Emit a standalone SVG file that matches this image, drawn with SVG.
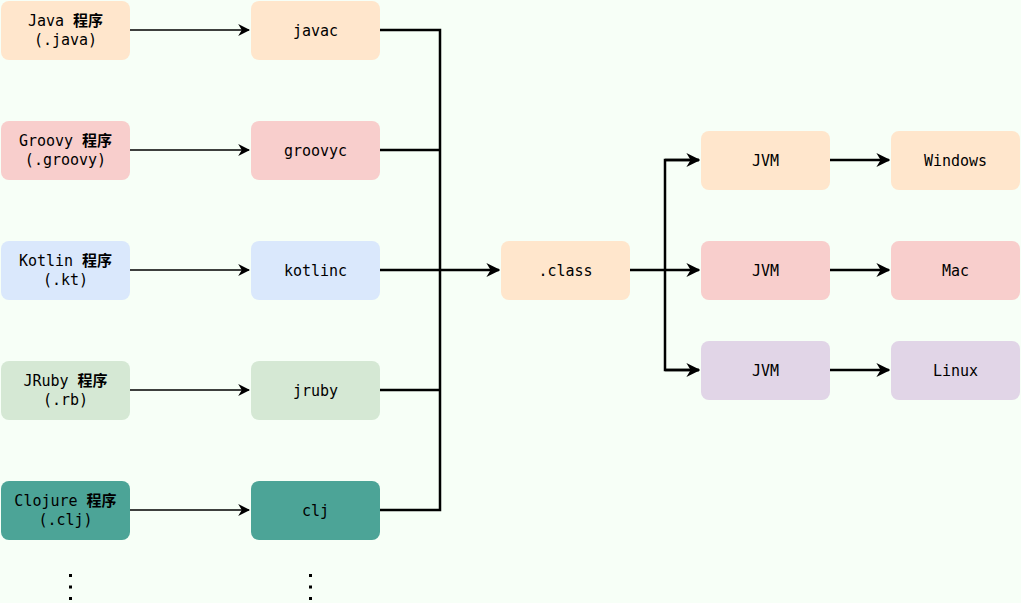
<svg xmlns="http://www.w3.org/2000/svg" width="1021" height="603" viewBox="0 0 1021 603">
<style>
.t{font-family:"DejaVu Sans Mono","Noto Sans CJK SC",monospace;font-size:15px;fill:#000;text-anchor:middle;dominant-baseline:central}
.c{font-weight:700}
.o{fill:#FFE6CC}.p{fill:#F8CECC}.b{fill:#DAE8FC}.g{fill:#D5E8D4}.k{fill:#4CA497}.v{fill:#E1D5E7}
.thin{stroke:#000;stroke-width:1.3;fill:none}
.thick{stroke:#000;stroke-width:2.5;fill:none}
</style>
<defs>
<marker id="a" viewBox="0 0 10 10" refX="9" refY="5" markerWidth="12" markerHeight="12" markerUnits="userSpaceOnUse" orient="auto"><path d="M0,0L10,5L0,10L3,5Z" fill="#000"/></marker>
<marker id="A" viewBox="0 0 10 10" refX="9" refY="5" markerWidth="14" markerHeight="14" markerUnits="userSpaceOnUse" orient="auto"><path d="M0,0L10,5L0,10L3,5Z" fill="#000"/></marker>
</defs>
<rect width="1021" height="603" fill="#F7FFF7"/>
<g id="connectors">
<path class="thin" d="M130,30H249" marker-end="url(#a)"/>
<path class="thin" d="M130,150H249" marker-end="url(#a)"/>
<path class="thin" d="M130,270H249" marker-end="url(#a)"/>
<path class="thin" d="M130,390H249" marker-end="url(#a)"/>
<path class="thin" d="M130,510H249" marker-end="url(#a)"/>
<path class="thick" d="M380,30H440V510H380M380,150H440M380,390H440"/>
<path class="thick" d="M380,270H499" marker-end="url(#A)"/>
<path class="thick" d="M630,270H699" marker-end="url(#A)"/>
<path class="thick" d="M699,160H665V370H699"/>
<path class="thick" d="M665,160H699" marker-end="url(#A)"/>
<path class="thick" d="M665,370H699" marker-end="url(#A)"/>
<path class="thick" d="M830,160H889" marker-end="url(#A)"/>
<path class="thick" d="M830,270H889" marker-end="url(#A)"/>
<path class="thick" d="M830,370H889" marker-end="url(#A)"/>
</g>
<g id="java"><rect class="o" x="1" y="1" width="129" height="59" rx="8"/><text class="t" x="65.5" y="21">Java <tspan class="c">程序</tspan></text><text class="t" x="65.5" y="40">(.java)</text></g>
<g id="groovy"><rect class="p" x="1" y="121" width="129" height="59" rx="8"/><text class="t" x="65.5" y="141">Groovy <tspan class="c">程序</tspan></text><text class="t" x="65.5" y="160">(.groovy)</text></g>
<g id="kotlin"><rect class="b" x="1" y="241" width="129" height="59" rx="8"/><text class="t" x="65.5" y="261">Kotlin <tspan class="c">程序</tspan></text><text class="t" x="65.5" y="280">(.kt)</text></g>
<g id="jruby"><rect class="g" x="1" y="361" width="129" height="59" rx="8"/><text class="t" x="65.5" y="381">JRuby <tspan class="c">程序</tspan></text><text class="t" x="65.5" y="400">(.rb)</text></g>
<g id="clojure"><rect class="k" x="1" y="481" width="129" height="59" rx="8"/><text class="t" x="65.5" y="501">Clojure <tspan class="c">程序</tspan></text><text class="t" x="65.5" y="520">(.clj)</text></g>
<g id="javac"><rect class="o" x="251" y="1" width="129" height="59" rx="8"/><text class="t" x="315.5" y="30.5">javac</text></g>
<g id="groovyc"><rect class="p" x="251" y="121" width="129" height="59" rx="8"/><text class="t" x="315.5" y="150.5">groovyc</text></g>
<g id="kotlinc"><rect class="b" x="251" y="241" width="129" height="59" rx="8"/><text class="t" x="315.5" y="270.5">kotlinc</text></g>
<g id="jrubyc"><rect class="g" x="251" y="361" width="129" height="59" rx="8"/><text class="t" x="315.5" y="390.5">jruby</text></g>
<g id="clj"><rect class="k" x="251" y="481" width="129" height="59" rx="8"/><text class="t" x="315.5" y="510.5">clj</text></g>
<g id="class"><rect class="o" x="501" y="241" width="129" height="59" rx="8"/><text class="t" x="565.5" y="270.5">.class</text></g>
<g id="jvm1"><rect class="o" x="701" y="131" width="129" height="59" rx="8"/><text class="t" x="765.5" y="160.5">JVM</text></g>
<g id="jvm2"><rect class="p" x="701" y="241" width="129" height="59" rx="8"/><text class="t" x="765.5" y="270.5">JVM</text></g>
<g id="jvm3"><rect class="v" x="701" y="341" width="129" height="59" rx="8"/><text class="t" x="765.5" y="370.5">JVM</text></g>
<g id="windows"><rect class="o" x="891" y="131" width="129" height="59" rx="8"/><text class="t" x="955.5" y="160.5">Windows</text></g>
<g id="mac"><rect class="p" x="891" y="241" width="129" height="59" rx="8"/><text class="t" x="955.5" y="270.5">Mac</text></g>
<g id="linux"><rect class="v" x="891" y="341" width="129" height="59" rx="8"/><text class="t" x="955.5" y="370.5">Linux</text></g>
<g id="dots" fill="#000">
<rect x="69" y="574" width="3" height="3"/><rect x="69" y="585.5" width="3" height="3"/><rect x="69" y="597" width="3" height="3"/>
<rect x="309" y="574" width="3" height="3"/><rect x="309" y="585.5" width="3" height="3"/><rect x="309" y="597" width="3" height="3"/>
</g>
</svg>
